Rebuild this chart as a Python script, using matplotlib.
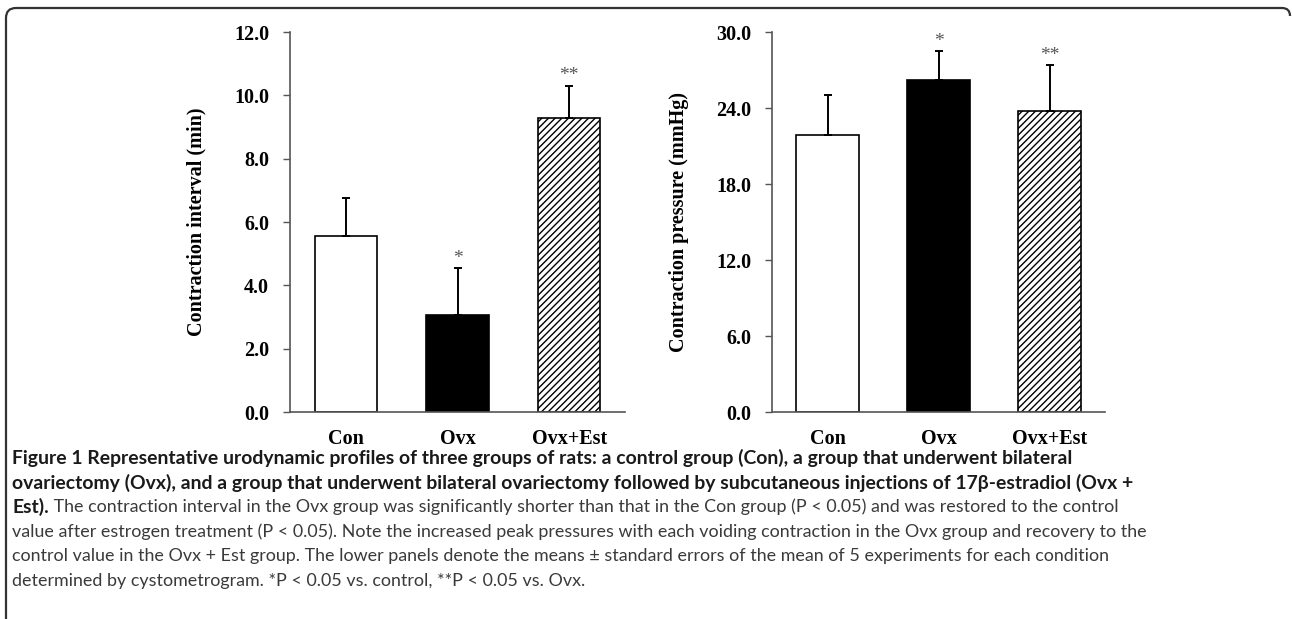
import numpy as np
import matplotlib
matplotlib.use('Agg')
import matplotlib.pyplot as plt
from matplotlib.path import Path
from matplotlib.patches import PathPatch

# data (mean, upper SEM bar)
groups = ['Con', 'Ovx', 'Ovx+Est']
interval_mean = [5.55, 3.05, 9.30]
interval_sem = [1.20, 1.50, 1.00]
pressure_mean = [21.9, 26.2, 23.8]
pressure_sem = [3.1, 2.3, 3.6]
sig_marks = ['', '*', '**']

bar_colors = ['white', 'black', 'white']
bar_hatch = [None, None, '/////']

serif = 'Liberation Serif'
caption_font = 'Lato'

caption_lines = [
    "Figure 1 Representative urodynamic profiles of three groups of rats: a control group (Con), a group that underwent bilateral",
    "ovariectomy (Ovx), and a group that underwent bilateral ovariectomy followed by subcutaneous injections of 17\u03b2-estradiol (Ovx +",
    ("Est).", " The contraction interval in the Ovx group was significantly shorter than that in the Con group (P < 0.05) and was restored to the control"),
    "value after estrogen treatment (P < 0.05). Note the increased peak pressures with each voiding contraction in the Ovx group and recovery to the",
    "control value in the Ovx + Est group. The lower panels denote the means \u00b1 standard errors of the mean of 5 experiments for each condition",
    "determined by cystometrogram. *P < 0.05 vs. control, **P < 0.05 vs. Ovx.",
]

W, H = 1292, 619
plt.rcParams['hatch.linewidth'] = 1.0
fig = plt.figure(figsize=(W / 100, H / 100), dpi=100)


def draw_panel(ax, means, sems, ymax, step, ylabel):
    x = np.arange(len(groups))
    bars = ax.bar(x, means, width=0.56, color=bar_colors, edgecolor='black', linewidth=1.2, zorder=2)
    for b, h in zip(bars, bar_hatch):
        if h:
            b.set_hatch(h)
    ax.errorbar(x, means, yerr=[np.zeros(len(sems)), sems], fmt='none', ecolor='black',
                elinewidth=1.4, capsize=3, capthick=1.4, zorder=3)
    for xi, m, s, t in zip(x, means, sems, sig_marks):
        if t:
            ax.annotate(t, (xi, m + s), xytext=(0, 1), textcoords='offset points',
                        ha='center', va='bottom', fontsize=14, color='#555555', family=serif)
    ax.set_xlim(-0.5, 2.5)
    ax.set_ylim(0, ymax)
    ticks = np.arange(0, ymax + step / 2, step)
    ax.set_yticks(ticks)
    ax.set_yticklabels(['%.1f' % t for t in ticks], family=serif, fontweight='bold', fontsize=14.5)
    ax.set_xticks(x)
    ax.set_xticklabels(groups, family=serif, fontweight='bold', fontsize=14.5)
    ax.tick_params(axis='y', length=5, width=1, color='#555555', pad=10)
    ax.tick_params(axis='x', length=0, pad=12)
    for side in ['top', 'right']:
        ax.spines[side].set_visible(False)
    for side in ['left', 'bottom']:
        ax.spines[side].set_color('#555555')
        ax.spines[side].set_linewidth(1.2)
    ax.set_ylabel(ylabel, family=serif, fontweight='bold', fontsize=14.5)
    ax.yaxis.set_label_coords(-0.25, 0.5)


ax1 = fig.add_axes([290 / W, 1 - 412 / H, 335 / W, 380 / H])
draw_panel(ax1, interval_mean, interval_sem, 12.0, 2.0, 'Contraction interval (min)')

ax2 = fig.add_axes([772 / W, 1 - 412 / H, 333 / W, 380 / H])
draw_panel(ax2, pressure_mean, pressure_sem, 30.0, 6.0, 'Contraction pressure (mmHg)')

# overlay in pixel coordinates for the frame and caption
ov = fig.add_axes([0, 0, 1, 1], zorder=-1)
ov.set_xlim(0, W)
ov.set_ylim(H, 0)
ov.axis('off')

verts = [(6, H), (6, 18), (6, 8), (16, 8), (1282, 8), (1290, 8), (1290, 16)]
codes = [Path.MOVETO, Path.LINETO, Path.CURVE3, Path.CURVE3, Path.LINETO, Path.CURVE3, Path.CURVE3]
ov.add_patch(PathPatch(Path(verts, codes), facecolor='none', edgecolor='#333333', lw=1.6))

renderer = fig.canvas.get_renderer()


def fit_size(text, weight, target):
    t = ov.text(0, 0, text, fontsize=10, fontweight=weight, family=caption_font)
    w = t.get_window_extent(renderer).width
    t.remove()
    return 10 * target / w


bold_fs = fit_size(caption_lines[0], 'bold', 1065)
norm_fs = fit_size(caption_lines[3], 'normal', 1130)

x0 = 12
line_y = [458, 483, 507, 532, 556, 581]
for i, line in enumerate(caption_lines):
    y = line_y[i]
    if i < 2:
        ov.text(x0, y, line, fontsize=bold_fs, fontweight='bold', family=caption_font,
                color='#1a1a1a', va='center', ha='left')
    elif isinstance(line, tuple):
        tb = ov.text(x0, y, line[0], fontsize=bold_fs, fontweight='bold', family=caption_font,
                     color='#1a1a1a', va='center', ha='left')
        bb = tb.get_window_extent(renderer)
        ov.text(bb.x1, y, line[1], fontsize=norm_fs, family=caption_font,
                color='#3a3a3a', va='center', ha='left')
    else:
        ov.text(x0, y, line, fontsize=norm_fs, family=caption_font,
                color='#3a3a3a', va='center', ha='left')

fig.savefig('out.png', dpi=100)
